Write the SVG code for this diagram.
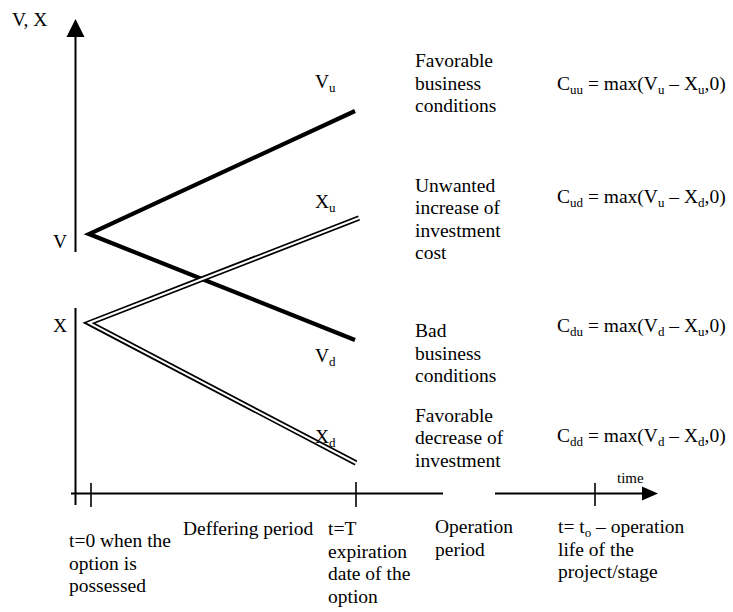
<svg xmlns="http://www.w3.org/2000/svg" width="733" height="612" viewBox="0 0 733 612">
<style>
text{font-family:'Liberation Serif','Times New Roman',Times,'DejaVu Serif',serif;font-size:19.5px;fill:#000}
.sub{font-size:13px}
.axis{stroke:#000;stroke-width:2;fill:none}
.tick{stroke:#000;stroke-width:1.6;fill:none}
.thick{stroke:#000;stroke-width:4.2;fill:none;stroke-linecap:butt}
.dblo{stroke:#000;stroke-width:5.5;fill:none}
.dbli{stroke:#fff;stroke-width:2;fill:none}
</style>
<rect width="733" height="612" fill="#fff"/>
<g id="connectors">
  <line class="axis" x1="75.5" y1="36" x2="75.5" y2="252"/>
  <line class="axis" x1="75.5" y1="308" x2="75.5" y2="505"/>
  <polygon points="75.5,19 66.5,37 84.5,37" fill="#000"/>
  <line class="axis" x1="71" y1="493.5" x2="443" y2="493.5"/>
  <line class="axis" x1="495" y1="493.5" x2="644" y2="493.5"/>
  <polygon points="658,493.5 642,486.5 642,500.5" fill="#000"/>
  <line class="tick" x1="91" y1="483" x2="91" y2="507"/>
  <line class="tick" x1="356" y1="482" x2="356" y2="507"/>
  <line class="tick" x1="595" y1="483" x2="595" y2="506"/>
  <polyline class="thick" points="355,111 89,234 355,340"/>
  <polyline class="dblo" points="359,218 89,323 356,463"/>
  <polyline class="dbli" points="359,218 89,323 356,463"/>
</g>
<g font-family="Liberation Serif, Times New Roman, serif">
<g id="axis-labels">
  <text x="12" y="26">V, X</text>
  <text x="53" y="248">V</text>
  <text x="53" y="332">X</text>
  <text x="617" y="483" style="font-size:15px">time</text>
</g>
<g id="branch-labels">
  <text x="315" y="88">V<tspan class="sub" dy="4">u</tspan></text>
  <text x="315" y="208">X<tspan class="sub" dy="4">u</tspan></text>
  <text x="315" y="362">V<tspan class="sub" dy="4">d</tspan></text>
  <text x="315" y="443">X<tspan class="sub" dy="4">d</tspan></text>
</g>
<g id="scenario-favorable-business">
  <text x="415" y="67">Favorable</text>
  <text x="415" y="89.5">business</text>
  <text x="415" y="112">conditions</text>
</g>
<g id="scenario-unwanted-increase">
  <text x="415" y="191.5">Unwanted</text>
  <text x="415" y="214">increase of</text>
  <text x="415" y="236.5">investment</text>
  <text x="415" y="259">cost</text>
</g>
<g id="scenario-bad-business">
  <text x="415" y="337">Bad</text>
  <text x="415" y="359.5">business</text>
  <text x="415" y="382">conditions</text>
</g>
<g id="scenario-favorable-decrease">
  <text x="415" y="421.5">Favorable</text>
  <text x="415" y="444">decrease of</text>
  <text x="415" y="466.5">investment</text>
</g>
<g id="formulas">
  <text x="557" y="90">C<tspan class="sub" dy="4">uu</tspan><tspan dy="-4"> = max(V</tspan><tspan class="sub" dy="4">u</tspan><tspan dy="-4"> – X</tspan><tspan class="sub" dy="4">u</tspan><tspan dy="-4">,0)</tspan></text>
  <text x="557" y="203">C<tspan class="sub" dy="4">ud</tspan><tspan dy="-4"> = max(V</tspan><tspan class="sub" dy="4">u</tspan><tspan dy="-4"> – X</tspan><tspan class="sub" dy="4">d</tspan><tspan dy="-4">,0)</tspan></text>
  <text x="557" y="332">C<tspan class="sub" dy="4">du</tspan><tspan dy="-4"> = max(V</tspan><tspan class="sub" dy="4">d</tspan><tspan dy="-4"> – X</tspan><tspan class="sub" dy="4">u</tspan><tspan dy="-4">,0)</tspan></text>
  <text x="557" y="442">C<tspan class="sub" dy="4">dd</tspan><tspan dy="-4"> = max(V</tspan><tspan class="sub" dy="4">d</tspan><tspan dy="-4"> – X</tspan><tspan class="sub" dy="4">d</tspan><tspan dy="-4">,0)</tspan></text>
</g>
<g id="time-labels">
  <text x="69" y="547">t=0 when the</text>
  <text x="69" y="569.5">option is</text>
  <text x="69" y="592">possessed</text>
  <text x="183" y="535">Deffering period</text>
  <text x="328" y="535">t=T</text>
  <text x="328" y="557.5">expiration</text>
  <text x="328" y="580">date of the</text>
  <text x="328" y="602.5">option</text>
  <text x="435" y="533">Operation</text>
  <text x="435" y="556">period</text>
  <text x="558" y="533">t= t<tspan class="sub" dy="4">o</tspan><tspan dy="-4"> – operation</tspan></text>
  <text x="558" y="556">life of the</text>
  <text x="558" y="578">project/stage</text>
</g>
</g>
</svg>
